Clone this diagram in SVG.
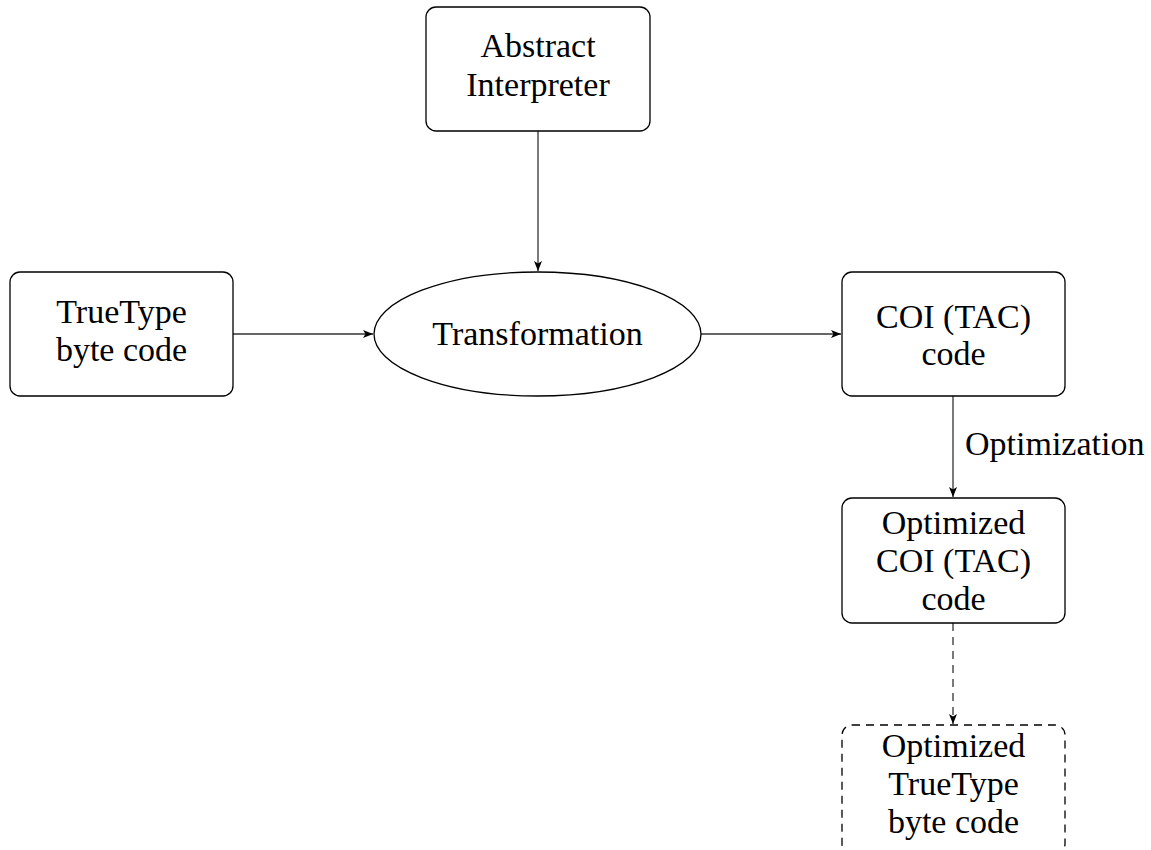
<svg xmlns="http://www.w3.org/2000/svg" width="1151" height="850" viewBox="0 0 1151 850">
<defs>
<style>
.box{fill:#fff;stroke:#000;stroke-width:1.3}
.dash{stroke-dasharray:8 6}
.t{font-size:34px;fill:#000;text-anchor:middle}
.e{fill:none;stroke:#333;stroke-width:1.3}
</style>
<marker id="ah" viewBox="0 0 10 8" refX="10" refY="4" markerWidth="10" markerHeight="8" markerUnits="userSpaceOnUse" orient="auto">
<path d="M0,0 L10,4 L0,8 L2.5,4 Z" fill="#000"/>
</marker>
</defs>
<rect width="1151" height="850" fill="#fff"/>
<g font-family="Liberation Serif">
<g id="connectors">
<line class="e" x1="538" y1="131" x2="538" y2="271" marker-end="url(#ah)"/>
<line class="e" x1="233" y1="334" x2="373" y2="334" marker-end="url(#ah)"/>
<line class="e" x1="701" y1="334" x2="841" y2="334" marker-end="url(#ah)"/>
<line class="e" x1="953" y1="396" x2="953" y2="497" marker-end="url(#ah)"/>
<line class="e dash" x1="953" y1="623" x2="953" y2="724" marker-end="url(#ah)"/>
<text class="t" x="965" y="455" text-anchor="start" style="text-anchor:start" font-family="Liberation Serif">Optimization</text>
</g>
<g id="abstract">
<rect class="box" x="426" y="7" width="224" height="124" rx="10"/>
<text class="t" x="538" y="57" font-family="Liberation Serif">Abstract</text>
<text class="t" x="538" y="96" font-family="Liberation Serif">Interpreter</text>
</g>
<g id="truetype">
<rect class="box" x="10" y="272" width="223" height="124" rx="10"/>
<text class="t" x="121.5" y="323" font-family="Liberation Serif">TrueType</text>
<text class="t" x="121.5" y="361" font-family="Liberation Serif">byte code</text>
</g>
<g id="transformation">
<ellipse class="box" cx="537.5" cy="334" rx="163.5" ry="62"/>
<text class="t" x="537.5" y="345" font-family="Liberation Serif">Transformation</text>
</g>
<g id="coi">
<rect class="box" x="842" y="272" width="223" height="124" rx="10"/>
<text class="t" x="953.5" y="328" font-family="Liberation Serif">COI (TAC)</text>
<text class="t" x="953.5" y="365" font-family="Liberation Serif">code</text>
</g>
<g id="optcoi">
<rect class="box" x="842" y="498" width="223" height="125" rx="10"/>
<text class="t" x="953.5" y="534" font-family="Liberation Serif">Optimized</text>
<text class="t" x="953.5" y="572" font-family="Liberation Serif">COI (TAC)</text>
<text class="t" x="953.5" y="610" font-family="Liberation Serif">code</text>
</g>
<g id="opttt">
<rect class="box dash" x="842" y="725" width="223" height="129" rx="10"/>
<text class="t" x="953.5" y="757" font-family="Liberation Serif">Optimized</text>
<text class="t" x="953.5" y="795" font-family="Liberation Serif">TrueType</text>
<text class="t" x="953.5" y="833" font-family="Liberation Serif">byte code</text>
</g>
</g>
</svg>
